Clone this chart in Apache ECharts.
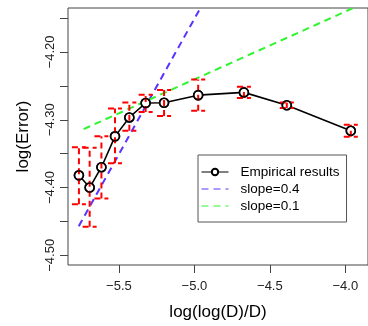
<!DOCTYPE html>
<html><head><meta charset="utf-8">
<script src="https://cdn.jsdelivr.net/npm/echarts@6/dist/echarts.min.js"></script>
<style>html,body{margin:0;padding:0;background:#fff}#c{width:368px;height:326px}</style>
</head><body><div id="c"></div>
<script>
// Empirical results
const xVals  = [-5.765, -5.694, -5.616, -5.526, -5.431, -5.323, -5.201, -4.975, -4.672, -4.388, -3.964];
const yVals  = [-4.382, -4.400, -4.370, -4.3245, -4.2966, -4.2753, -4.275, -4.2637, -4.2596, -4.2786, -4.3163];
const errLow = [-4.4246, -4.4577, -4.4163, -4.364, -4.3163, -4.2884, -4.2943, -4.2867, -4.2679, -4.2826, -4.325];
const errHigh= [-4.3406, -4.3413, -4.3245, -4.2835, -4.2747, -4.263, -4.2562, -4.2406, -4.2512, -4.2747, -4.3075];
// reference lines (end points)
const slope04X = [-5.766, -4.90];
const slope04Y = [-4.457, -4.111];
const slope01X = [-5.734, -3.85];
const slope01Y = [-4.3138, -4.1254];
// ticks
const xTicks = [-5.5, -5.0, -4.5, -4.0];
const yTicks = [-4.50, -4.45, -4.40, -4.35, -4.30, -4.25, -4.20, -4.15];
const yLabels = [-4.50, -4.40, -4.30, -4.20];

const FONT = '"Liberation Sans", Arial, sans-serif';
const fmt = (v, d) => (v < 0 ? '\u2212' : '') + Math.abs(v).toFixed(d);

const chart = echarts.init(document.getElementById('c'), null, {renderer: 'canvas'});
const empData = xVals.map((x, i) => [x, yVals[i]]);
const errData = xVals.map((x, i) => [x, errLow[i], errHigh[i]]);

const option = {
  animation: false,
  backgroundColor: '#fff',
  grid: {left: 68, top: 8, right: -8.05, bottom: 59, show: true, borderColor: '#444', borderWidth: 1},
  xAxis: {
    type: 'value', min: -5.8374, max: -3.85,
    name: 'log(log(D)/D)', nameLocation: 'middle', nameGap: 39,
    nameTextStyle: {fontFamily: FONT, fontSize: 17, color: '#000'},
    splitLine: {show: false}, axisLine: {show: false},
    axisTick: {show: true, inside: false, length: 8, customValues: xTicks, lineStyle: {color: '#444'}},
    axisLabel: {customValues: xTicks, margin: 15, fontFamily: FONT, fontSize: 13, color: '#222', formatter: v => fmt(v, 1)}
  },
  yAxis: {
    type: 'value', min: -4.5143, max: -4.1351,
    name: 'log(Error)', nameLocation: 'middle', nameGap: 36,
    nameTextStyle: {fontFamily: FONT, fontSize: 17, color: '#000'},
    splitLine: {show: false}, axisLine: {show: false},
    axisTick: {show: true, inside: false, length: 8, customValues: yTicks, lineStyle: {color: '#444'}},
    axisLabel: {customValues: yLabels, rotate: 90, margin: 11, fontFamily: FONT, fontSize: 13, color: '#222', formatter: v => fmt(v, 2)}
  },
  legend: {
    data: [
      {name: 'Empirical results'},
      {name: 'slope=0.4', itemStyle: {opacity: 0}},
      {name: 'slope=0.1', itemStyle: {opacity: 0}}
    ],
    orient: 'vertical', left: 198, top: 155,
    padding: [10, 7, 9, 3],
    itemWidth: 27, itemHeight: 8, itemGap: 3,
    borderColor: '#555', borderWidth: 1, borderRadius: 0, backgroundColor: '#fff',
    lineStyle: {width: 1},
    textStyle: {fontFamily: FONT, fontSize: 13.5, color: '#000', padding: [0, 0, 0, 7]}
  },
  series: [
    {
      name: 'slope=0.4', type: 'line', z: 1, symbol: 'none',
      data: slope04X.map((x, i) => [x, slope04Y[i]]),
      lineStyle: {color: '#5b32ff', width: 2, type: [7, 5]}, itemStyle: {color: '#5b32ff'}
    },
    {
      name: 'slope=0.1', type: 'line', z: 1, symbol: 'none',
      data: slope01X.map((x, i) => [x, slope01Y[i]]),
      lineStyle: {color: '#2ef52e', width: 2, type: [7, 5]}, itemStyle: {color: '#2ef52e'}
    },
    {
      name: 'Empirical results', type: 'line', z: 2,
      data: empData, symbol: 'circle', symbolSize: 9,
      lineStyle: {color: '#000', width: 1.6},
      itemStyle: {color: '#fff', borderColor: '#000', borderWidth: 1.6}
    },
    {
      type: 'custom', z: 3, data: errData,
      renderItem: function (params, api) {
        const x = api.value(0);
        const lo = api.coord([x, api.value(1)]);
        const hi = api.coord([x, api.value(2)]);
        const hw = 7;
        const st = {stroke: '#ff0000', lineWidth: 2, lineDash: [6, 4]};
        return {
          type: 'group', children: [
            {type: 'line', shape: {x1: lo[0], y1: lo[1], x2: hi[0], y2: hi[1]}, style: st},
            {type: 'line', shape: {x1: lo[0] - hw, y1: lo[1], x2: lo[0] + hw, y2: lo[1]}, style: st},
            {type: 'line', shape: {x1: hi[0] - hw, y1: hi[1], x2: hi[0] + hw, y2: hi[1]}, style: st}
          ]
        };
      }
    },
    {
      type: 'scatter', z: 4, data: empData, symbol: 'circle', symbolSize: 9,
      itemStyle: {color: 'rgba(0,0,0,0)', borderColor: '#000', borderWidth: 1.6}
    }
  ]
};
chart.setOption(option);
</script></body></html>
